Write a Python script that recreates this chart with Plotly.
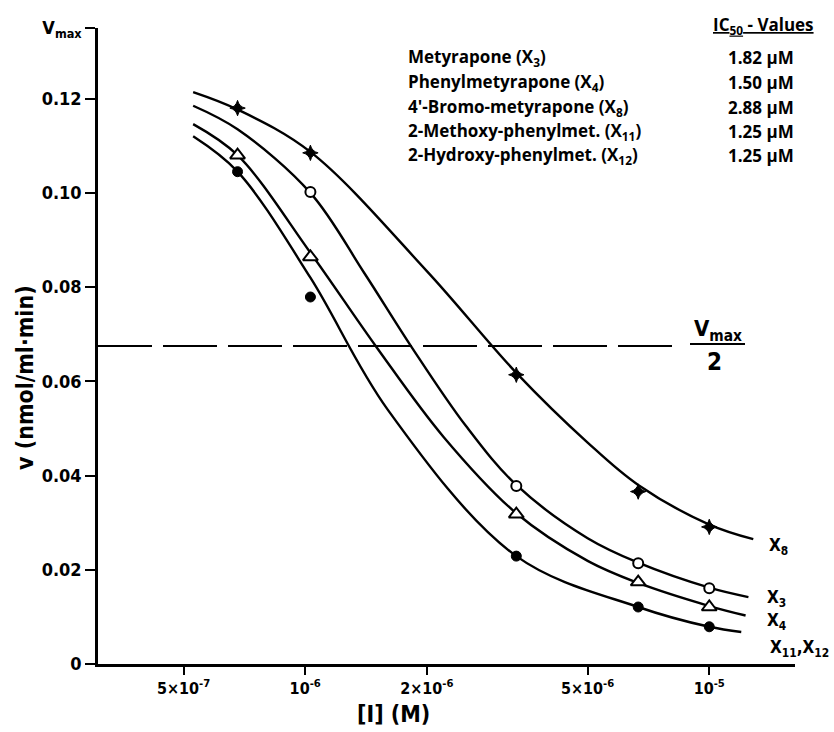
import plotly.graph_objects as go
import numpy as np

# ---------------- data ----------------
conc = [0.68e-6, 1.03e-6, 3.33e-6, 6.67e-6, 1.0e-5]          # inhibitor concentration [M]
conc_x3 = [1.03e-6, 3.33e-6, 6.67e-6, 1.0e-5]

v_x8 = [0.118, 0.1085, 0.0614, 0.0366, 0.0291]               # 4'-Bromo-metyrapone
v_x3 = [0.1002, 0.0378, 0.0214, 0.0161]                      # Metyrapone
v_x4 = [0.108, 0.0864, 0.0318, 0.0174, 0.0121]               # Phenylmetyrapone
v_x11 = [0.1045, 0.0779, 0.0229, 0.0121, 0.0079]             # X11, X12

# fitted curves
curve_x8_x = [5.28e-7, 6.8e-7, 1.03e-6, 2.0e-6, 3.33e-6, 5.0e-6, 6.67e-6, 1.0e-5, 1.285e-5]
curve_x8_y = [0.1214, 0.1177, 0.1087, 0.0834, 0.0618, 0.047, 0.038, 0.0296, 0.0265]
curve_x3_x = [5.28e-7, 6.8e-7, 1.03e-6, 1.4e-6, 1.82e-6, 2.5e-6, 3.33e-6, 5.0e-6, 6.67e-6, 1.0e-5, 1.25e-5]
curve_x3_y = [0.1185, 0.1135, 0.1000, 0.083, 0.0677, 0.0505, 0.038, 0.0267, 0.0215, 0.0162, 0.0142]
curve_x4_x = [5.28e-7, 6.8e-7, 1.03e-6, 1.5e-6, 2.2e-6, 3.33e-6, 5.0e-6, 6.67e-6, 1.0e-5, 1.23e-5]
curve_x4_y = [0.1146, 0.108, 0.0873, 0.0673, 0.0482, 0.032, 0.0219, 0.0172, 0.0123, 0.0103]
curve_x11_x = [5.28e-7, 6.8e-7, 1.03e-6, 1.6e-6, 3.33e-6, 6.67e-6, 1.0e-5, 1.2e-5]
curve_x11_y = [0.112, 0.1045, 0.082, 0.054, 0.0229, 0.0121, 0.0079, 0.0068]

vmax = 0.135
half_x = [3.07e-7, 8.3e-6]

x_tickvals = [5e-7, 1e-6, 2e-6, 5e-6, 1e-5]
x_ticktext = ["5×10<sup>-7</sup>", "10<sup>-6</sup>", "2×10<sup>-6</sup>",
              "5×10<sup>-6</sup>", "10<sup>-5</sup>"]
y_tickvals = [0, 0.02, 0.04, 0.06, 0.08, 0.10, 0.12, vmax]
y_ticktext = ["0", "0.02", "0.04", "0.06", "0.08", "0.10", "0.12", "V<sub>max</sub>"]

compounds = ["Metyrapone (X<sub>3</sub>)", "Phenylmetyrapone (X<sub>4</sub>)",
             "4'-Bromo-metyrapone (X<sub>8</sub>)", "2-Methoxy-phenylmet. (X<sub>11</sub>)",
             "2-Hydroxy-phenylmet. (X<sub>12</sub>)"]
ic50 = ["1.82 µM", "1.50 µM", "2.88 µM", "1.25 µM", "1.25 µM"]

# ---------------- figure ----------------
W, H = 834, 732
L, R, T, B = 98, 39, 28, 68
pw, ph = W - L - R, H - T - B


def xp(px):
    return (px - L) / pw


def yp(py):
    return (H - B - py) / ph


AX = "DejaVu Sans Condensed"
TXT = "Open Sans"

fig = go.Figure()

fig.add_trace(go.Scatter(x=half_x, y=[vmax / 2] * len(half_x), mode="lines",
                         line=dict(color="black", width=2, dash="54px,11px"),
                         showlegend=False, hoverinfo="skip"))

for cx, cy in [(curve_x8_x, curve_x8_y), (curve_x3_x, curve_x3_y),
               (curve_x4_x, curve_x4_y), (curve_x11_x, curve_x11_y)]:
    fig.add_trace(go.Scatter(x=cx, y=cy, mode="lines",
                             line=dict(color="black", width=2.4, shape="spline", smoothing=1.0),
                             showlegend=False, hoverinfo="skip"))

fig.add_trace(go.Scatter(x=conc, y=v_x8, mode="markers",
                         marker=dict(symbol="star-diamond", size=11, color="black",
                                     line=dict(color="black", width=1)), showlegend=False))
fig.add_trace(go.Scatter(x=conc_x3, y=v_x3, mode="markers",
                         marker=dict(symbol="circle", size=10, color="white",
                                     line=dict(color="black", width=2)), showlegend=False))
fig.add_trace(go.Scatter(x=conc, y=v_x4, mode="markers",
                         marker=dict(symbol="triangle-up", size=13, color="white",
                                     line=dict(color="black", width=2)), showlegend=False))
fig.add_trace(go.Scatter(x=conc, y=v_x11, mode="markers",
                         marker=dict(symbol="circle", size=10, color="black",
                                     line=dict(color="black", width=1)), showlegend=False))


def note(text, px_, py_, size, family=AX, xanchor="center", weight="bold", angle=0):
    return dict(text=text, x=xp(px_), y=yp(py_), xref="paper", yref="paper",
                xanchor=xanchor, yanchor="middle", textangle=angle, showarrow=False,
                font=dict(family=family, size=size, color="black", weight=weight))


ann = []
# axis titles
ann.append(note("v (nmol/ml·min)", 25, 378, 23, angle=-90))
ann.append(note("[I] (M)", 393, 714, 23))
# Vmax / 2
ann.append(note("V<sub>max</sub>", 718, 330, 22))
ann.append(note("2", 714, 362, 24))
# curve labels
for t, px_, py_ in [("X<sub>8</sub>", 778, 546), ("X<sub>3</sub>", 776, 598),
                    ("X<sub>4</sub>", 776, 621), ("X<sub>11</sub>,X<sub>12</sub>", 800, 648)]:
    ann.append(note(t, px_, py_, 17))
# IC50 table
ann.append(note("<u>IC<sub>50</sub> - Values</u>", 763, 26, 17, family=TXT))
rows_y = [58, 82.5, 107, 131.5, 156]
for name, val, ry in zip(compounds, ic50, rows_y):
    ann.append(note(name, 406, ry, 17, family=TXT, xanchor="left"))
    ann.append(note(val, 726, ry, 17, family=TXT, xanchor="left"))

fig.update_layout(
    width=W, height=H,
    margin=dict(l=L, r=R, t=T, b=B, pad=0),
    paper_bgcolor="white", plot_bgcolor="white",
    showlegend=False,
    annotations=ann,
    shapes=[dict(type="line", xref="paper", yref="paper", x0=xp(690), x1=xp(745),
                 y0=yp(344), y1=yp(344), line=dict(color="black", width=2))],
    xaxis=dict(type="log", range=[np.log10(3.07e-7), np.log10(1.63e-5)],
               tickvals=x_tickvals, ticktext=x_ticktext,
               showline=True, linecolor="black", linewidth=2.5,
               ticks="outside", ticklen=8, tickwidth=2, tickcolor="black",
               showgrid=False, zeroline=False,
               tickfont=dict(family=AX, size=16, color="black", weight="bold")),
    yaxis=dict(range=[0, vmax], tickvals=y_tickvals, ticktext=y_ticktext,
               showline=True, linecolor="black", linewidth=2.5,
               ticks="outside", ticklen=10, tickwidth=2, tickcolor="black",
               showgrid=False, zeroline=False,
               tickfont=dict(family=AX, size=18, color="black", weight="bold")),
)

fig.write_html("out.html")
